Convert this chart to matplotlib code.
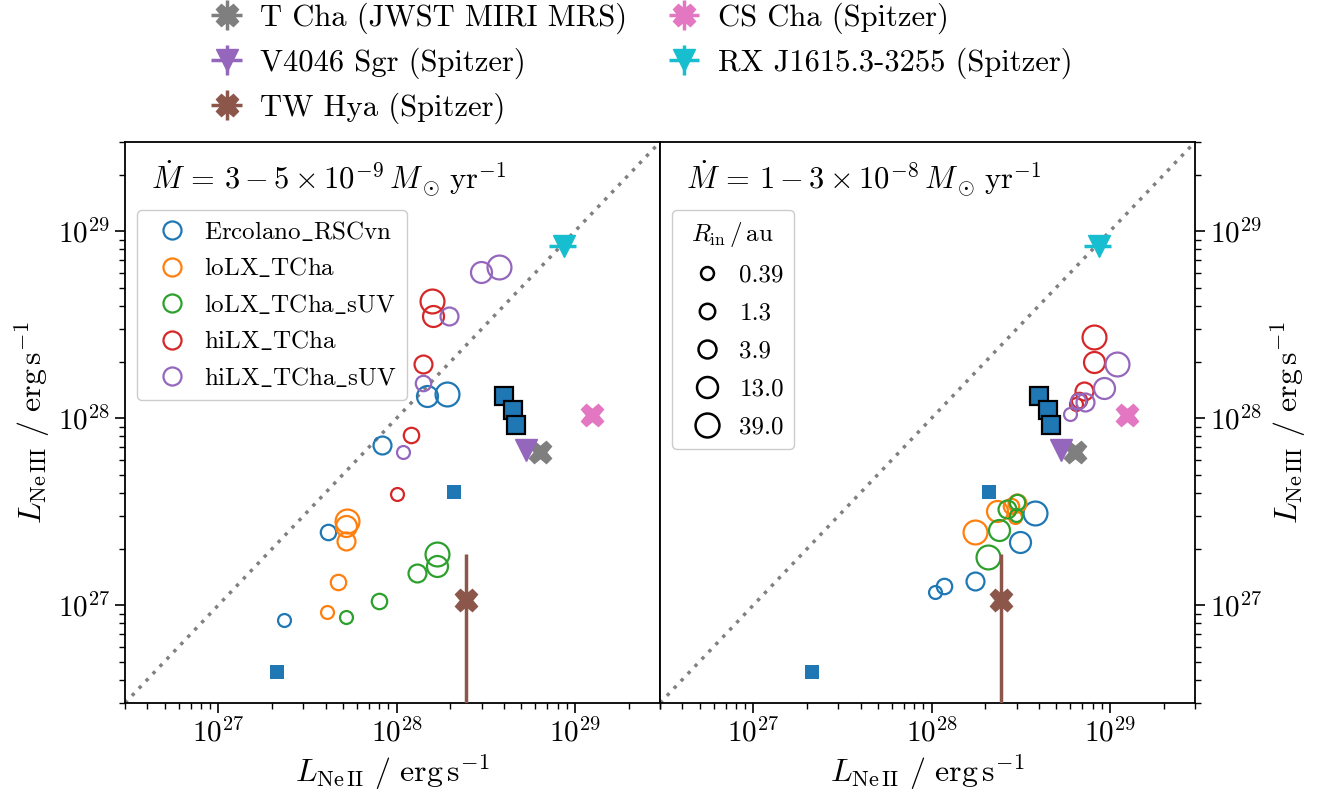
import numpy as np
import matplotlib.pyplot as plt
from matplotlib.lines import Line2D

plt.rcParams['font.family'] = ['cmr10', 'DejaVu Serif']
plt.rcParams['mathtext.fontset'] = 'cm'
plt.rcParams['axes.unicode_minus'] = False
plt.rcParams['axes.formatter.use_mathtext'] = True

# Model grid: [Ne II] and [Ne III] luminosities (erg/s), one entry per inner radius
rin_au = [0.39, 1.3, 3.9, 13.0, 39.0]
models = ['Ercolano_RSCvn', 'loLX_TCha', 'loLX_TCha_sUV', 'hiLX_TCha', 'hiLX_TCha_sUV']
model_colors = ['tab:blue', 'tab:orange', 'tab:green', 'tab:red', 'tab:purple']

# Mdot = 3-5e-9 Msun/yr
lo_neii = {
    'Ercolano_RSCvn': [2.35e27, 4.11e27, 8.24e27, 1.48e28, 1.91e28],
    'loLX_TCha':      [4.06e27, 4.68e27, 5.19e27, 5.19e27, 5.25e27],
    'loLX_TCha_sUV':  [5.21e27, 8.0e27, 1.31e28, 1.69e28, 1.69e28],
    'hiLX_TCha':      [1.01e28, 1.21e28, 1.41e28, 1.61e28, 1.57e28],
    'hiLX_TCha_sUV':  [1.09e28, 1.40e28, 1.98e28, 2.96e28, 3.76e28],
}
lo_neiii = {
    'Ercolano_RSCvn': [8.3e26, 2.46e27, 7.16e27, 1.32e28, 1.34e28],
    'loLX_TCha':      [9.16e26, 1.33e27, 2.20e27, 2.66e27, 2.83e27],
    'loLX_TCha_sUV':  [8.61e26, 1.05e27, 1.49e27, 1.63e27, 1.89e27],
    'hiLX_TCha':      [3.94e27, 8.17e27, 1.95e28, 3.53e28, 4.21e28],
    'hiLX_TCha_sUV':  [6.6e27, 1.55e28, 3.52e28, 6.05e28, 6.45e28],
}

# Mdot = 1-3e-8 Msun/yr
hi_neii = {
    'Ercolano_RSCvn': [1.05e28, 1.18e28, 1.75e28, 3.13e28, 3.80e28],
    'loLX_TCha':      [2.94e28, 2.79e28, 3.0e28, 2.32e28, 1.75e28],
    'loLX_TCha_sUV':  [2.98e28, 3.0e28, 2.65e28, 2.39e28, 2.07e28],
    'hiLX_TCha':      [6.46e28, 6.74e28, 7.19e28, 8.18e28, 8.18e28],
    'hiLX_TCha_sUV':  [5.98e28, 6.65e28, 7.26e28, 9.31e28, 1.09e29],
}
hi_neiii = {
    'Ercolano_RSCvn': [1.17e27, 1.27e27, 1.35e27, 2.19e27, 3.12e27],
    'loLX_TCha':      [2.96e27, 3.39e27, 3.52e27, 3.2e27, 2.47e27],
    'loLX_TCha_sUV':  [3.04e27, 3.55e27, 3.27e27, 2.52e27, 1.80e27],
    'hiLX_TCha':      [1.19e28, 1.25e28, 1.40e28, 2.0e28, 2.71e28],
    'hiLX_TCha_sUV':  [1.05e28, 1.24e28, 1.225e28, 1.445e28, 1.94e28],
}

# Observed sources
obs_names = ['T Cha (JWST MIRI MRS)', 'V4046 Sgr (Spitzer)', 'TW Hya (Spitzer)',
             'CS Cha (Spitzer)', 'RX J1615.3-3255 (Spitzer)']
obs_neii = [6.38e28, 5.30e28, 2.44e28, 1.25e29, 8.69e28]
obs_neiii = [6.56e27, 6.76e27, 1.06e27, 1.04e28, 8.33e28]
obs_neii_err = [2e27, 1.5e27, 1e27, 4e27, 1.5e28]
obs_neiii_err_lo = [2e26, 2e26, 1.05e27, 4e26, 1e27]
obs_neiii_err_hi = [2e26, 2e26, 0.81e27, 4e26, 1e27]
obs_colors = ['tab:gray', 'tab:purple', 'tab:brown', 'tab:pink', 'tab:cyan']
obs_markers = ['X', 'v', 'X', 'X', 'v']

# Other measurements (blue squares)
sq_neii = [2.09e28, 2.14e27]
sq_neiii = [4.04e27, 4.39e26]
sq_edge_neii = [4.01e28, 4.5e28, 4.68e28]
sq_edge_neiii = [1.315e28, 1.107e28, 9.25e27]

rin_ms = [9.3, 11.1, 12.9, 15.1, 17.2]
lims = (3e26, 3e29)

fig = plt.figure(figsize=(13.36, 7.96), dpi=100)
W, H = 1336, 796
ax1 = fig.add_axes([125 / W, 1 - 703 / H, 535 / W, 561 / H])
ax2 = fig.add_axes([660 / W, 1 - 703 / H, 535 / W, 561 / H])

titles = [r'$\dot{M}\, =\, 3 - 5 \times 10^{-9}\,M_\odot\,\mathrm{yr}^{-1}$',
          r'$\dot{M}\, =\, 1 - 3 \times 10^{-8}\,M_\odot\,\mathrm{yr}^{-1}$']

obs_handles = []
for k, (ax, xs, ys) in enumerate([(ax1, lo_neii, lo_neiii), (ax2, hi_neii, hi_neiii)]):
    ax.set_xscale('log')
    ax.set_yscale('log')
    ax.plot(lims, lims, color='gray', ls=(0, (1, 1.9)), lw=2.5, zorder=1)

    for name, c in zip(models, model_colors):
        for i in range(len(rin_au)):
            ax.plot(xs[name][i], ys[name][i], 'o', mfc='none', mec=c,
                    ms=rin_ms[i], mew=1.6, zorder=2)

    ax.plot(sq_neii, sq_neiii, 's', color='tab:blue', ms=9.5, mew=0, zorder=3)
    for x, y in zip(sq_edge_neii, sq_edge_neiii):
        ax.plot(x, y, 's', mfc='tab:blue', mec='black', ms=13, mew=1.6, zorder=3)

    for i in range(len(obs_names)):
        h = ax.errorbar(obs_neii[i], obs_neiii[i], xerr=obs_neii_err[i],
                        yerr=[[obs_neiii_err_lo[i]], [obs_neiii_err_hi[i]]],
                        fmt=obs_markers[i], color=obs_colors[i], ms=16,
                        elinewidth=2.5, capsize=0, zorder=4, label=obs_names[i])
        if k == 0:
            obs_handles.append(h)

    ax.set_xlim(lims)
    ax.set_ylim(lims)
    ax.text(0.048, 0.935, titles[k], transform=ax.transAxes,
            va='center', ha='left', fontsize=22)
    ax.set_xlabel(r'$L_{\mathrm{Ne\,II}}\ /\ \mathrm{erg\,s^{-1}}$', fontsize=23)
    ax.set_ylabel(r'$L_{\mathrm{Ne\,III}}\ /\ \mathrm{erg\,s^{-1}}$', fontsize=23)
    ax.tick_params(which='major', length=7, width=1.2, labelsize=21)
    ax.tick_params(which='minor', length=4, width=1.0)
    for s in ax.spines.values():
        s.set_linewidth(1.3)

ax2.yaxis.tick_right()
ax2.yaxis.set_label_position('right')

# model colour legend
model_handles = [Line2D([], [], ls='none', marker='o', mfc='none', mec=c, ms=13, mew=1.6)
                 for c in model_colors]
model_labels = [m.replace('_', r'$\_$') for m in models]
ax1.legend(model_handles, model_labels, loc='upper left', bbox_to_anchor=(0.022, 0.879),
           borderaxespad=0, fontsize=18, handletextpad=0.3, labelspacing=0.5,
           edgecolor='0.8', framealpha=1)

# inner radius legend
size_handles = [Line2D([], [], ls='none', marker='o', mfc='none', mec='black',
                       ms=m, mew=1.8) for m in rin_ms]
ax2.legend(size_handles, [str(r) for r in rin_au], loc='upper left',
           bbox_to_anchor=(0.022, 0.879), borderaxespad=0, fontsize=18,
           title=r'$R_{\mathrm{in}}\,/\,\mathrm{au}$', title_fontsize=18,
           handletextpad=0.3, labelspacing=0.62, edgecolor='0.8', framealpha=1)

fig.legend(obs_handles, obs_names, loc='upper center', bbox_to_anchor=(0.477, 1.012),
           borderaxespad=0, ncol=2, frameon=False, fontsize=22, handlelength=1.6,
           handletextpad=0.3, labelspacing=0.44, columnspacing=1.05)

fig.savefig('out.png', dpi=100)
